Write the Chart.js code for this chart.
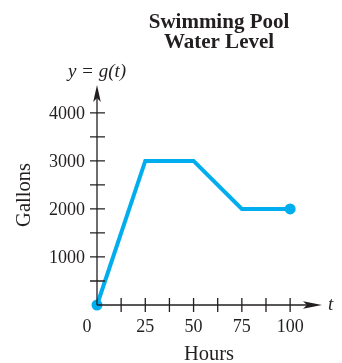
<!DOCTYPE html>
<html>
<head>
<meta charset="utf-8">
<script src="https://cdn.jsdelivr.net/npm/chart.js@4/dist/chart.umd.min.js"></script>
<style>
html,body{margin:0;padding:0;background:#fff;}
#wrap{width:342px;height:363px;position:relative;}
</style>
</head>
<body>
<div id="wrap"><canvas id="c" width="342" height="363"></canvas></div>
<script>
const hours = [0, 25, 50, 75, 100];
const gallons = [0, 3000, 3000, 2000, 2000];
const xTickValues = [0, 12.5, 25, 37.5, 50, 62.5, 75, 87.5, 100];
const xTickLabels = {0: "0", 25: "25", 50: "50", 75: "75", 100: "100"};
const yTickValues = [500, 1000, 1500, 2000, 2500, 3000, 3500, 4000];
const yTickLabels = {1000: "1000", 2000: "2000", 3000: "3000", 4000: "4000"};
const titleLines = ["Swimming Pool", "Water Level"];
const xAxisTitle = "Hours";
const yAxisTitle = "Gallons";
const funcLabel = "y = g(t)";
const xVarLabel = "t";

const INK = "#231f20";
const BLUE = "#00aeef";

const axesPlugin = {
  id: "axesPlugin",
  afterDraw(chart) {
    const ctx = chart.ctx;
    const xs = chart.scales.x, ys = chart.scales.y;
    const x0 = xs.getPixelForValue(0), y0 = ys.getPixelForValue(0);
    const xEnd = xs.right, yEnd = ys.top;
    ctx.save();
    ctx.strokeStyle = INK; ctx.fillStyle = INK; ctx.lineWidth = 1.3;
    ctx.beginPath();
    ctx.moveTo(x0, y0); ctx.lineTo(xEnd - 10, y0);
    ctx.moveTo(x0, y0); ctx.lineTo(x0, yEnd + 10);
    ctx.stroke();
    ctx.beginPath();
    ctx.moveTo(xEnd, y0); ctx.lineTo(xEnd - 19, y0 - 3.8); ctx.lineTo(xEnd - 15, y0); ctx.lineTo(xEnd - 19, y0 + 3.8); ctx.closePath();
    ctx.fill();
    ctx.beginPath();
    ctx.moveTo(x0, yEnd); ctx.lineTo(x0 - 3.8, yEnd + 17); ctx.lineTo(x0, yEnd + 13); ctx.lineTo(x0 + 3.8, yEnd + 17); ctx.closePath();
    ctx.fill();
    ctx.beginPath();
    xTickValues.forEach(v => { if (v === 0) return; const p = xs.getPixelForValue(v); ctx.moveTo(p, y0 - 7); ctx.lineTo(p, y0 + 7); });
    yTickValues.forEach(v => { const p = ys.getPixelForValue(v); ctx.moveTo(x0 - 7, p); ctx.lineTo(x0 + 8, p); });
    ctx.stroke();
    ctx.font = '18px "Liberation Serif", "Times New Roman", serif';
    ctx.textBaseline = "middle";
    ctx.textAlign = "center";
    Object.keys(xTickLabels).forEach(k => {
      const v = +k; let p = xs.getPixelForValue(v);
      if (v === 0) p -= 10;
      ctx.fillText(xTickLabels[k], p, y0 + 22);
    });
    ctx.textAlign = "right";
    Object.keys(yTickLabels).forEach(k => {
      ctx.fillText(yTickLabels[k], x0 - 12, ys.getPixelForValue(+k) + 1);
    });
    ctx.font = '20.5px "Liberation Serif", "Times New Roman", serif';
    ctx.textAlign = "center";
    ctx.fillText(xAxisTitle, 209, 355);
    ctx.save();
    ctx.translate(25, 195); ctx.rotate(-Math.PI / 2);
    ctx.fillText(yAxisTitle, 0, 0);
    ctx.restore();
    ctx.font = 'italic 19px "Liberation Serif", "Times New Roman", serif';
    ctx.fillText(funcLabel, 97, 72);
    ctx.textAlign = "left";
    ctx.fillText(xVarLabel, xEnd + 6, y0);
    ctx.font = 'bold 21px "Liberation Serif", "Times New Roman", serif';
    ctx.textAlign = "center";
    ctx.textBaseline = "alphabetic";
    ctx.fillText(titleLines[0], 219, 28);
    ctx.fillText(titleLines[1], 219, 48);
    ctx.restore();
  }
};

new Chart(document.getElementById("c"), {
  type: "scatter",
  data: {
    datasets: [{
      data: hours.map((h, i) => ({x: h, y: gallons[i]})),
      showLine: true,
      borderColor: BLUE,
      backgroundColor: BLUE,
      borderWidth: 4,
      borderJoinStyle: "miter",
      pointRadius: hours.map((h, i) => (i === 0 || i === hours.length - 1) ? 5.5 : 0),
      pointBorderWidth: 0,
      clip: false
    }]
  },
  options: {
    responsive: false,
    animation: false,
    events: [],
    layout: {padding: {left: 97, right: 20, top: 85, bottom: 58}},
    plugins: {legend: {display: false}, title: {display: false}, tooltip: {enabled: false}},
    scales: {
      x: {type: "linear", min: 0, max: 116.5, display: false},
      y: {type: "linear", min: 0, max: 4580, display: false}
    }
  },
  plugins: [axesPlugin]
});
</script>
</body>
</html>
